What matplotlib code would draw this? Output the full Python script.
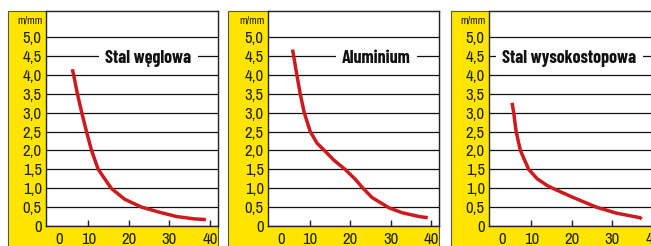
import matplotlib.pyplot as plt
from matplotlib.patches import Rectangle

# curve data (x, m/mm)
stal_x = [6.0, 6.33, 7.25, 8.33, 9.5, 10.75, 12.4, 15.6, 18.9, 23.1, 27.7, 31.8, 36.0, 39.0]
stal_y = [4.15, 4.0, 3.5, 3.0, 2.5, 2.0, 1.5, 1.0, 0.71, 0.5, 0.36, 0.25, 0.19, 0.17]

alu_x = [5.6, 6.67, 7.5, 8.5, 10.0, 11.7, 13.6, 15.8, 18.75, 21.25, 23.1, 25.4, 29.6, 32.9, 37.1, 39.2]
alu_y = [4.67, 4.0, 3.5, 3.0, 2.5, 2.19, 1.99, 1.75, 1.49, 1.23, 1.0, 0.75, 0.48, 0.35, 0.25, 0.22]

hss_x = [5.2, 5.6, 6.2, 7.25, 9.3, 11.4, 13.9, 15.2, 20.2, 26.0, 31.0, 36.8, 37.25]
hss_y = [3.26, 3.0, 2.5, 2.0, 1.5, 1.25, 1.07, 1.0, 0.76, 0.5, 0.34, 0.22, 0.19]

titles = ["Stal węglowa", "Aluminium", "Stal wysokostopowa"]
title_x = [24.8, 26.5, 19.4]
series = [(stal_x, stal_y), (alu_x, alu_y), (hss_x, hss_y)]

y_ticks = [0, 0.5, 1.0, 1.5, 2.0, 2.5, 3.0, 3.5, 4.0, 4.5, 5.0]
y_labels = ["0", "0,5", "1,0", "1,5", "2,0", "2,5", "3,0", "3,5", "4,0", "4,5", "5,0"]
x_ticks = [2.7, 10, 20, 30, 40]
x_labels = ["0", "10", "20", "30", "40"]

W, H = 651, 246
YELLOW = "#ffe500"
RED = "#cc1a1f"
FONT = ["Archivo Narrow", "DejaVu Sans"]
TFONT = ["Barlow Condensed", "DejaVu Sans"]

fig = plt.figure(figsize=(W / 100, H / 100), dpi=100)

# pixel layout of each panel: frame left, plot left, plot right
panels = [(8, 46, 218), (228, 268, 439), (451, 489, 661)]
top, bottom = 11, 226

for (fl, pl, pr), (xs, ys), title, tx in zip(panels, series, titles, title_x):
    fig.patches.append(Rectangle((fl / W, -0.1), (pr - fl) / W, (H - top) / H + 0.1,
                                 transform=fig.transFigure, facecolor=YELLOW,
                                 edgecolor="#555555", lw=0.8, zorder=-5))
    ax = fig.add_axes([pl / W, (H - bottom) / H, (pr - pl) / W, (bottom - top) / H])
    ax.set_facecolor("white")
    ax.set_xlim(-0.5, 42)
    ax.set_ylim(0, 5.69)
    for s in ax.spines.values():
        s.set_color("#222222")
        s.set_linewidth(1.0)
    ax.set_yticks(y_ticks)
    ax.set_yticklabels(y_labels, fontsize=12, family=FONT, color="#222200")
    ax.tick_params(axis="y", length=0, pad=3)
    ax.yaxis.grid(True, color="#111111", lw=0.9)
    ax.set_axisbelow(True)
    ax.set_xticks(x_ticks)
    ax.set_xticklabels(x_labels, fontsize=12, family=FONT, color="#222200")
    ax.tick_params(axis="x", direction="in", length=4, width=1.0, color="#222222", pad=4)
    ax.xaxis.get_major_ticks()[0].tick1line.set_visible(False)
    ax.text(-0.02, 0.955, "m/mm", transform=ax.transAxes, ha="right", va="center",
            fontsize=8, family=FONT, color="#222200")
    ax.plot(xs, ys, color=RED, lw=2.5, solid_capstyle="butt",
            solid_joinstyle="round", zorder=3)
    ax.text(tx, 4.32, title, ha="center", va="baseline", fontsize=13,
            fontweight="bold", family=TFONT, color="#111111", zorder=4,
            bbox=dict(boxstyle="square,pad=0.35", fc="white", ec="none"))

fig.savefig("out.png", dpi=100)
